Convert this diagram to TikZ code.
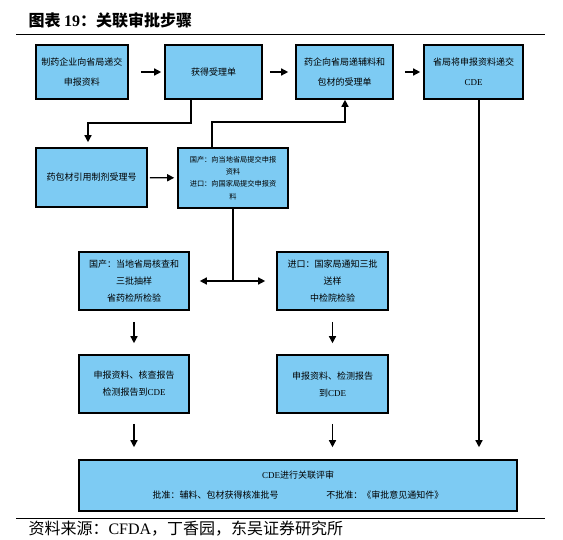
\documentclass[tikz,border=0pt]{standalone}
\usepackage{fontspec}
\setmainfont{Noto Sans CJK SC}
\newfontfamily\lat{Liberation Serif}
\usetikzlibrary{arrows, arrows.meta}
\usetikzlibrary{calc}
\definecolor{boxblue}{RGB}{125,203,243}
\tikzset{
  stage/.style={draw, line width=1.6pt, fill=boxblue, align=center, inner sep=0pt,
    font=\fontsize{9}{20}\selectfont},
  arr/.style={line width=1.4pt, -{Triangle[length=7pt,width=7pt]}},
}

\begin{document}
\begin{tikzpicture}[x=1pt, y=-1pt]
      \useasboundingbox (0,0) rectangle (563,539);
      \node[anchor=west, font=\bfseries\fontsize{16}{16}\selectfont] (title) at (25,20.5) {图表 {\lat\bfseries 19}：关联审批步骤};
      \draw[line width=0.9pt] (16,34) -- (545,34);
      \draw[line width=0.9pt] (16,518) -- (545,518);
      \node[anchor=west, font=\fontsize{16}{16}\selectfont] (source) at (25,529) {资料来源：{\lat CFDA}，丁香园，东吴证券研究所};

      \node[stage, minimum width=92pt, minimum height=54pt] (zhiyao) at (82,72) {制药企业向省局递交\\申报资料};
      \node[stage, minimum width=97pt, minimum height=54pt] (huode) at (213.5,72) {获得受理单};
      \node[stage, minimum width=97pt, minimum height=54pt] (fuliao) at (344.5,72) {药企向省局递辅料和\\包材的受理单};
      \node[stage, minimum width=99pt, minimum height=54pt] (cde) at (473.5,72) {省局将申报资料递交\\{\lat CDE}};
      \node[stage, minimum width=111pt, minimum height=59pt] (baocai) at (91.5,177.5) {药包材引用制剂受理号};
      \node[stage, minimum width=110pt, minimum height=60pt, font=\fontsize{7.2}{12.3}\selectfont] (tijiao) at (233,178) {国产：向当地省局提交申报\\资料\\进口：向国家局提交申报资\\料};
      \node[stage, minimum width=110pt, minimum height=58pt, font=\fontsize{9}{17}\selectfont] (guochan) at (134,281) {国产：当地省局核查和\\三批抽样\\省药检所检验};
      \node[stage, minimum width=111pt, minimum height=58pt, font=\fontsize{9}{17}\selectfont] (jinkou) at (332.5,281) {进口：国家局通知三批\\送样\\中检院检验};
      \node[stage, minimum width=110pt, minimum height=58pt, font=\fontsize{9}{17}\selectfont] (baogao1) at (134,384) {申报资料、核查报告\\检测报告到{\lat CDE}};
      \node[stage, minimum width=111pt, minimum height=58pt, font=\fontsize{9}{17}\selectfont] (baogao2) at (332.5,384) {申报资料、检测报告\\到{\lat CDE}};
      \node[stage, minimum width=438pt, minimum height=51pt] (pingshen) at (298,485.5) {{\lat CDE}进行关联评审\\批准：辅料、包材获得核准批号\hspace{48pt}不批准：《审批意见通知件》};

      \coordinate (k1) at (191,123);
      \coordinate (k2) at (88,123);
      \coordinate (k3) at (212,122);
      \coordinate (k4) at (345,122);
      \coordinate (k5) at (479,300);
      \coordinate (fen) at (233,281);

      \draw[arr, shorten <=12pt, shorten >=3pt] (zhiyao) -- (huode);
      \draw[arr, shorten <=7pt, shorten >=7pt] (huode) -- (fuliao);
      \draw[arr, shorten <=11pt, shorten >=3pt] (fuliao) -- (cde);
      \draw[arr] (huode.south -| k1) -- (k1) -- (k2) -- ([yshift=5pt]baocai.north -| k2);
      \draw[arr, shorten <=2pt, shorten >=3pt] (baocai) -- (tijiao);
      \draw[arr] (tijiao.north -| k3) -- (k3) -- (k4) -- (fuliao.south -| k4);
      \draw[arr] (cde.south -| k5) -- ([yshift=12pt]pingshen.north -| k5);
      \draw[line width=1.4pt] (tijiao.south -| fen) -- (fen);
      \draw[arr] (fen) -- ([xshift=10pt]guochan.east);
      \draw[arr] (fen) -- ([xshift=-11pt]jinkou.west);
      \draw[arr, shorten <=11pt, shorten >=11pt] (guochan) -- (baogao1);
      \draw[arr, shorten <=11pt, shorten >=11pt] (jinkou) -- (baogao2);
      \draw[arr, shorten <=10pt, shorten >=12pt] (baogao1.south) -- (baogao1.south |- pingshen.north);
      \draw[arr, shorten <=10pt, shorten >=12pt] (baogao2.south) -- (baogao2.south |- pingshen.north);
\end{tikzpicture}
\end{document}
